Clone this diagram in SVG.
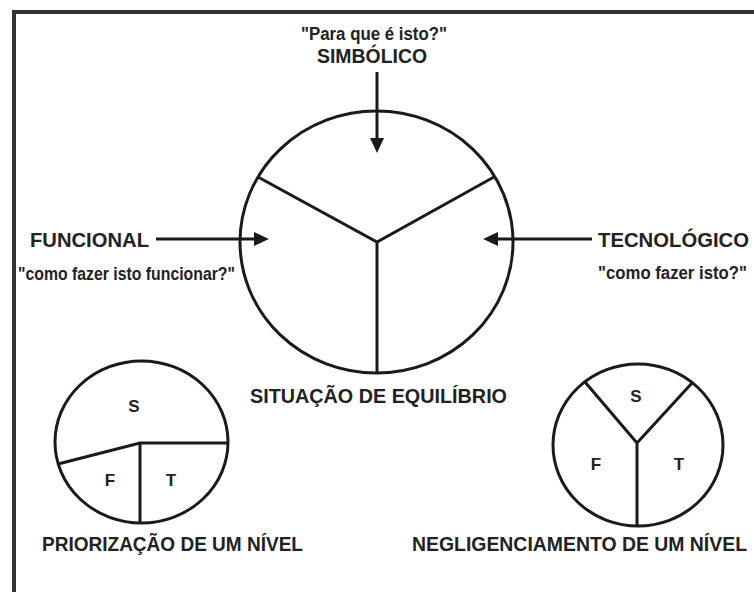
<svg xmlns="http://www.w3.org/2000/svg" width="754" height="592" viewBox="0 0 754 592">
<style>
.ln{fill:none;stroke:#1a1a1a;stroke-width:3;stroke-linecap:butt;stroke-linejoin:miter}
.t{font-family:"Liberation Sans",Arial,sans-serif;font-weight:bold;fill:#222}
.big{font-size:20.5px}
.q{font-size:17.5px}
.lab{font-size:17px;text-anchor:middle}
</style>
<defs>
<marker id="ah" markerUnits="userSpaceOnUse" markerWidth="16" markerHeight="14" refX="2" refY="7" orient="auto">
<path d="M0,0 L15,7 L0,14 Z" fill="#1a1a1a"/>
</marker>
</defs>
<rect x="0" y="0" width="754" height="592" fill="#ffffff"/>
<path d="M14,592 V12 H754" fill="none" stroke="#333" stroke-width="4"/>

<g id="equilibrio">
<ellipse class="ln" cx="376.5" cy="242" rx="136.5" ry="131"/>
<path class="ln" d="M258,177 L377,242 L494,177 M377,242 V373"/>
<text class="t big" x="250" y="403" textLength="257" lengthAdjust="spacingAndGlyphs">SITUAÇÃO DE EQUILÍBRIO</text>
</g>

<g id="simbolico">
<text class="t q" x="301" y="40" textLength="146" lengthAdjust="spacingAndGlyphs">"Para que é isto?"</text>
<text class="t big" x="317" y="63" textLength="110" lengthAdjust="spacingAndGlyphs">SIMBÓLICO</text>
</g>

<g id="funcional">
<text class="t big" x="30" y="247" textLength="119" lengthAdjust="spacingAndGlyphs">FUNCIONAL</text>
<text class="t q" x="18" y="280" textLength="217" lengthAdjust="spacingAndGlyphs">"como fazer isto funcionar?"</text>
</g>

<g id="tecnologico">
<text class="t big" x="598" y="247" textLength="151" lengthAdjust="spacingAndGlyphs">TECNOLÓGICO</text>
<text class="t q" x="598" y="279" textLength="149" lengthAdjust="spacingAndGlyphs">"como fazer isto?"</text>
</g>

<g id="priorizacao">
<ellipse class="ln" cx="141.5" cy="442" rx="86.5" ry="81"/>
<path class="ln" d="M58,464 L140,443 H228 M140,443 V523"/>
<text class="t lab" x="134" y="412">S</text>
<text class="t lab" x="110" y="486">F</text>
<text class="t lab" x="171" y="486">T</text>
<text class="t big" x="42" y="551" textLength="261" lengthAdjust="spacingAndGlyphs">PRIORIZAÇÃO DE UM NÍVEL</text>
</g>

<g id="negligenciamento">
<ellipse class="ln" cx="638" cy="445" rx="85" ry="81"/>
<path class="ln" d="M585,382 L637,443 L692,383 M637,443 V526"/>
<text class="t lab" x="636" y="402">S</text>
<text class="t lab" x="596" y="470">F</text>
<text class="t lab" x="679" y="470">T</text>
<text class="t" x="412" y="551" font-size="19.3" textLength="335" lengthAdjust="spacingAndGlyphs">NEGLIGENCIAMENTO DE UM NÍVEL</text>
</g>

<g id="connectors">
<line class="ln" x1="377" y1="72" x2="377" y2="140" marker-end="url(#ah)"/>
<line class="ln" x1="156" y1="239" x2="256" y2="239" marker-end="url(#ah)"/>
<line class="ln" x1="592" y1="239" x2="496" y2="239" marker-end="url(#ah)"/>
</g>
</svg>
